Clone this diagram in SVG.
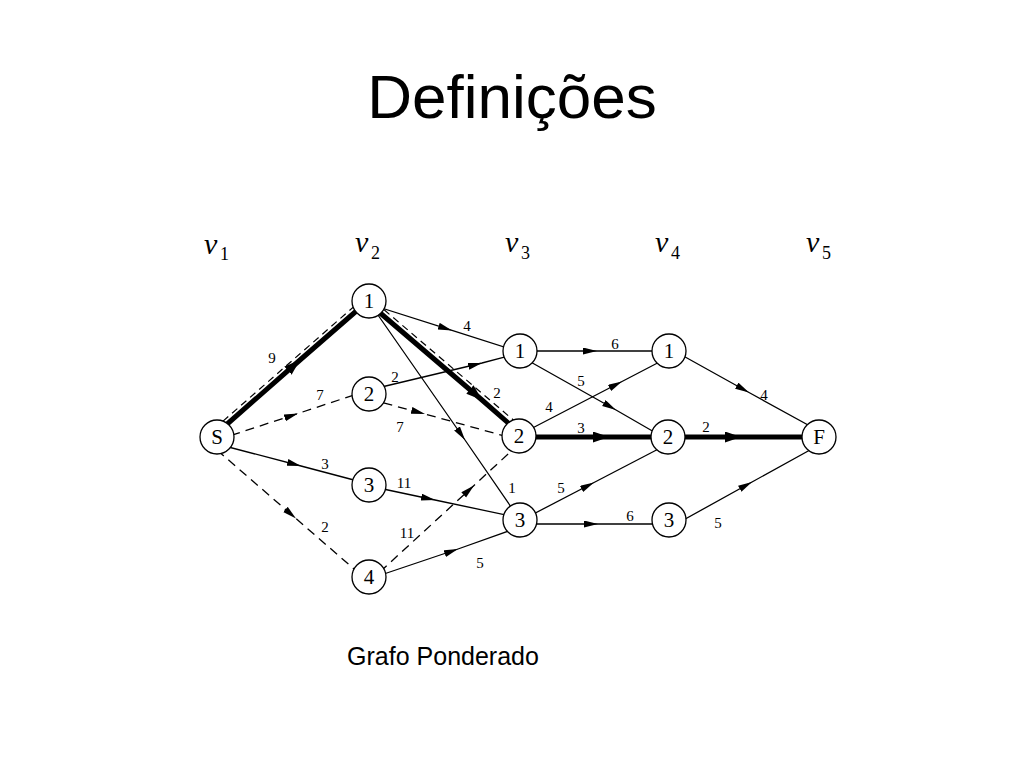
<svg xmlns="http://www.w3.org/2000/svg" width="1024" height="768" viewBox="0 0 1024 768">
<defs>
<marker id="ah" markerUnits="userSpaceOnUse" markerWidth="16" markerHeight="8" refX="14" refY="3.5" orient="auto" viewBox="0 0 16 8">
<path d="M0,0 L14,3.5 L0,7 z" fill="#000"/>
</marker>
<marker id="ahb" markerUnits="userSpaceOnUse" markerWidth="18" markerHeight="12" refX="16" refY="5.5" orient="auto" viewBox="0 0 18 12">
<path d="M0,0 L16,5.5 L0,11 z" fill="#000"/>
</marker>
<style>
.e{fill:none;stroke:#000;stroke-width:1.3;marker-mid:url(#ah)}
.d{stroke-dasharray:9 6}
.t{fill:none;stroke:#000;stroke-width:5;marker-mid:url(#ahb)}
.p{fill:none;stroke:#000;stroke-width:1.2;stroke-dasharray:7 5}
.n circle{fill:#fff;stroke:#000;stroke-width:1.3}
.n text{font-family:"Liberation Serif",serif;font-size:21px;text-anchor:middle}
.w{font-family:"Liberation Serif",serif;font-size:15px;text-anchor:middle;fill:#000}
.v{font-family:"Liberation Serif",serif;font-style:italic;font-size:30px}
.vs{font-family:"Liberation Serif",serif;font-size:18px}
</style>
</defs>
<rect width="1024" height="768" fill="#fff"/>
<text x="512" y="118" font-family="Liberation Sans, Arial, sans-serif" font-size="62" text-anchor="middle">Definições</text>
<g id="columns">
<text class="v" x="204" y="254">v</text><text class="vs" x="220" y="260">1</text>
<text class="v" x="355" y="252">v</text><text class="vs" x="371" y="259">2</text>
<text class="v" x="505" y="252">v</text><text class="vs" x="521" y="259">3</text>
<text class="v" x="655" y="252">v</text><text class="vs" x="671" y="259">4</text>
<text class="v" x="806" y="252">v</text><text class="vs" x="822" y="259">5</text>
</g>
<g id="connectors">
<path class="p" d="M214,429 L366,296"/>
<path class="p" d="M375,302 L518,424"/>
<path class="t" d="M217,433 L300,360 L369,300"/>
<path class="t" d="M372,306 L482,400 L514,428"/>
<path class="e d" d="M217,440 L298,413.5 L369,390"/>
<path class="e" d="M217,444 L301,466 L369,484"/>
<path class="e d" d="M217,450 L296,518.6 L369,582"/>
<path class="e" d="M369,304 L452,330.4 L520,352"/>
<path class="e" d="M371,305 L465,440 L520,520"/>
<path class="e" d="M369,390 L482,363 L520,353"/>
<path class="e d" d="M369,399 L425,414 L519,440"/>
<path class="e" d="M369,486 L435,500 L520,518"/>
<path class="e d" d="M369,582 L474,485.4 L519,444"/>
<path class="e" d="M369,579 L458,549 L520,527"/>
<path class="e" d="M520,351 L597,351 L669,351"/>
<path class="e" d="M520,356 L616,410 L668,440"/>
<path class="e" d="M519,435 L622,381.5 L669,357"/>
<path class="t" d="M519,437 L609,437 L668,437"/>
<path class="e" d="M520,521 L594,482.5 L668,444"/>
<path class="e" d="M520,524 L598,524 L669,524"/>
<path class="e" d="M669,348 L749,392.5 L819,431"/>
<path class="t" d="M668,437 L741,437 L819,437"/>
<path class="e" d="M669,528 L752,482 L819,445"/>
</g>
<g id="weights">
<text class="w" x="272" y="363">9</text>
<text class="w" x="320" y="400">7</text>
<text class="w" x="325" y="469">3</text>
<text class="w" x="325" y="532">2</text>
<text class="w" x="467" y="331">4</text>
<text class="w" x="497" y="398">2</text>
<text class="w" x="512" y="493">1</text>
<text class="w" x="395" y="382">2</text>
<text class="w" x="400" y="432">7</text>
<text class="w" x="404" y="488">11</text>
<text class="w" x="407" y="538">11</text>
<text class="w" x="480" y="568">5</text>
<text class="w" x="615" y="349">6</text>
<text class="w" x="581" y="386">5</text>
<text class="w" x="549" y="412">4</text>
<text class="w" x="581" y="433">3</text>
<text class="w" x="561" y="493">5</text>
<text class="w" x="630" y="521">6</text>
<text class="w" x="764" y="400">4</text>
<text class="w" x="706" y="432">2</text>
<text class="w" x="718" y="528">5</text>
</g>
<g id="node-S" class="n"><circle cx="217" cy="437" r="17"/><text x="217" y="444">S</text></g>
<g id="node-v2-1" class="n"><circle cx="369" cy="301" r="17"/><text x="369" y="308">1</text></g>
<g id="node-v2-2" class="n"><circle cx="369" cy="394" r="17"/><text x="369" y="401">2</text></g>
<g id="node-v2-3" class="n"><circle cx="369" cy="485" r="17"/><text x="369" y="492">3</text></g>
<g id="node-v2-4" class="n"><circle cx="369" cy="577" r="17"/><text x="369" y="584">4</text></g>
<g id="node-v3-1" class="n"><circle cx="520" cy="351" r="17"/><text x="520" y="358">1</text></g>
<g id="node-v3-2" class="n"><circle cx="519" cy="436" r="17"/><text x="519" y="443">2</text></g>
<g id="node-v3-3" class="n"><circle cx="520" cy="520" r="17"/><text x="520" y="527">3</text></g>
<g id="node-v4-1" class="n"><circle cx="669" cy="351" r="17"/><text x="669" y="358">1</text></g>
<g id="node-v4-2" class="n"><circle cx="668" cy="437" r="17"/><text x="668" y="444">2</text></g>
<g id="node-v4-3" class="n"><circle cx="669" cy="520" r="17"/><text x="669" y="527">3</text></g>
<g id="node-F" class="n"><circle cx="819" cy="437" r="17"/><text x="819" y="444">F</text></g>
<text x="443" y="665" font-family="Liberation Sans, Arial, sans-serif" font-size="25" text-anchor="middle">Grafo Ponderado</text>
</svg>
